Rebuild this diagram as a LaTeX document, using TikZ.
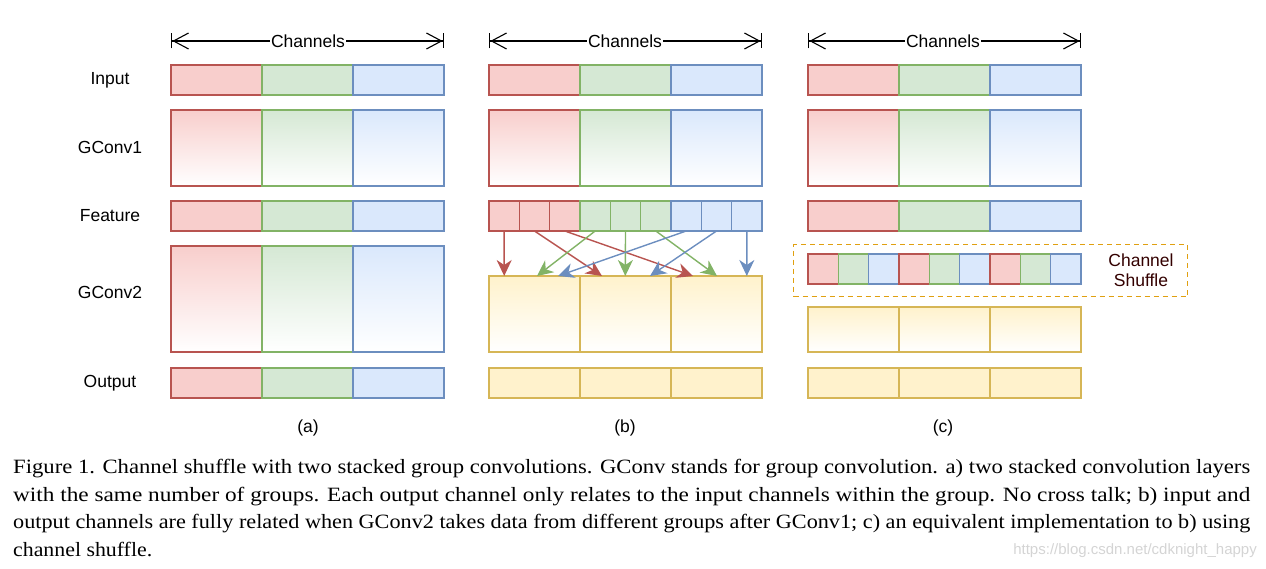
\documentclass[tikz,border=0pt]{standalone}
\usepackage{fontspec}
\setmainfont{Liberation Serif}
\setsansfont{Liberation Sans}
\usetikzlibrary{arrows.meta}
\definecolor{rf}{HTML}{F8CECC}\definecolor{rs}{HTML}{B85450}
\definecolor{gf}{HTML}{D5E8D4}\definecolor{gs}{HTML}{82B366}
\definecolor{bf}{HTML}{DAE8FC}\definecolor{bs}{HTML}{6C8EBF}
\definecolor{yf}{HTML}{FFF2CC}\definecolor{ys}{HTML}{D6B656}
\definecolor{os}{HTML}{E0A010}\definecolor{txtbrown}{HTML}{330000}
\definecolor{wm}{HTML}{D4D4D4}
\begin{document}
\begin{tikzpicture}[x=1pt,y=-1pt,
  cell/.style={rectangle,inner sep=0pt,outer sep=0pt,anchor=north west,line width=1.4pt,minimum width=91pt},
  small/.style={cell,minimum width=30.333pt,minimum height=30pt},
  rcell/.style={draw=rs,fill=rf}, gcell/.style={draw=gs,fill=gf},
  bcell/.style={draw=bs,fill=bf}, ycell/.style={draw=ys,fill=yf},
  rgrad/.style={draw=rs,top color=rf,bottom color=white},
  ggrad/.style={draw=gs,top color=gf,bottom color=white},
  bgrad/.style={draw=bs,top color=bf,bottom color=white},
  ygrad/.style={draw=ys,top color=yf,bottom color=white},
  lab/.style={font=\sffamily\fontsize{17.5}{20}\selectfont,inner sep=1pt},
  arr/.style={line width=1.4pt,-{Stealth[length=16pt,width=15pt,inset=5pt]}},
  chan/.style={line width=1.1pt,{Bar[width=15pt,line width=1.4pt]Straight Barb[length=15pt,width=16pt,line width=1.1pt]}-{Straight Barb[length=15pt,width=16pt,line width=1.1pt]Bar[width=15pt,line width=1.4pt]}},
  capline/.style={anchor=base west,inner sep=0pt,font=\fontsize{20.3}{24}\selectfont}
]
\useasboundingbox (0,0) rectangle (1266,569);

% row labels
\node[lab] (l-in) at (110,80) {Input};
\node[lab] (l-g1) at (110,147) {GConv1};
\node[lab] (l-f) at (110,216) {Feature};
\node[lab] (l-g2) at (110,292) {GConv2};
\node[lab] (l-out) at (110,383) {Output};

% channels arrows, input, gconv1 in all panels
\foreach \p/\x/\c in {a/171/308,b/489/625,c/808/943} {
  \coordinate (\p-cl) at (\x,41);
  \coordinate (\p-cr) at (\x+273,41);
  \draw[chan] (\p-cl) -- (\p-cr);
  \node[lab,fill=white] (\p-chan) at (\c,41) {Channels};
  \node[lab] (\p-cap) at (\c,428) {(\p)};
  \node[cell,rcell,minimum height=30pt] (\p-in-1) at (\x,65) {};
  \node[cell,gcell,minimum height=30pt] (\p-in-2) at (\x+91,65) {};
  \node[cell,bcell,minimum height=30pt] (\p-in-3) at (\x+182,65) {};
  \node[cell,rgrad,minimum height=76pt] (\p-g1-1) at (\x,110) {};
  \node[cell,ggrad,minimum height=76pt] (\p-g1-2) at (\x+91,110) {};
  \node[cell,bgrad,minimum height=76pt] (\p-g1-3) at (\x+182,110) {};
}
% panel a
\node[cell,rcell,minimum height=30pt] (a-f-1) at (171,201) {};
\node[cell,gcell,minimum height=30pt] (a-f-2) at (262,201) {};
\node[cell,bcell,minimum height=30pt] (a-f-3) at (353,201) {};
\node[cell,rgrad,minimum height=106pt] (a-g2-1) at (171,246) {};
\node[cell,ggrad,minimum height=106pt] (a-g2-2) at (262,246) {};
\node[cell,bgrad,minimum height=106pt] (a-g2-3) at (353,246) {};
\node[cell,rcell,minimum height=30pt] (a-o-1) at (171,368) {};
\node[cell,gcell,minimum height=30pt] (a-o-2) at (262,368) {};
\node[cell,bcell,minimum height=30pt] (a-o-3) at (353,368) {};

% panel b
\node[small,rcell] (b-f-1) at (489,201) {};
\node[small,rcell] (b-f-2) at (519.333,201) {};
\node[small,rcell] (b-f-3) at (549.667,201) {};
\node[small,gcell] (b-f-4) at (580,201) {};
\node[small,gcell] (b-f-5) at (610.333,201) {};
\node[small,gcell] (b-f-6) at (640.667,201) {};
\node[small,bcell] (b-f-7) at (671,201) {};
\node[small,bcell] (b-f-8) at (701.333,201) {};
\node[small,bcell] (b-f-9) at (731.667,201) {};
\node[cell,ygrad,minimum height=76pt] (b-g2-1) at (489,276) {};
\node[cell,ygrad,minimum height=76pt] (b-g2-2) at (580,276) {};
\node[cell,ygrad,minimum height=76pt] (b-g2-3) at (671,276) {};
\node[cell,ycell,minimum height=30pt] (b-o-1) at (489,368) {};
\node[cell,ycell,minimum height=30pt] (b-o-2) at (580,368) {};
\node[cell,ycell,minimum height=30pt] (b-o-3) at (671,368) {};
% arrow targets
\coordinate (t1) at (504.2,276);
\coordinate (t2) at (537,276);
\coordinate (t3) at (558,276);
\coordinate (t4) at (602,276);
\coordinate (t5) at (625.3,276);
\coordinate (t6) at (650,276);
\coordinate (t7) at (693,276);
\coordinate (t8) at (717,276);
\coordinate (t9) at (746.8,276);
\draw[arr,rs] (b-f-1.south) -- (t1);
\draw[arr,rs] (b-f-2.south) -- (t4);
\draw[arr,rs] (b-f-3.south) -- (t7);
\draw[arr,gs] (b-f-4.south) -- (t2);
\draw[arr,gs] (b-f-5.south) -- (t5);
\draw[arr,gs] (b-f-6.south) -- (t8);
\draw[arr,bs] (b-f-7.south) -- (t3);
\draw[arr,bs] (b-f-8.south) -- (t6);
\draw[arr,bs] (b-f-9.south) -- (t9);

% panel c
\node[cell,rcell,minimum height=30pt] (c-f-1) at (808,201) {};
\node[cell,gcell,minimum height=30pt] (c-f-2) at (899,201) {};
\node[cell,bcell,minimum height=30pt] (c-f-3) at (990,201) {};
\node[rectangle,draw=os,dash pattern=on 5pt off 4pt,line width=1.4pt,anchor=north west,inner sep=0pt,minimum width=394pt,minimum height=52pt] (shbox) at (793,244) {};
\node[small,rcell] (c-s-1) at (808,254) {};
\node[small,gcell] (c-s-2) at (838.333,254) {};
\node[small,bcell] (c-s-3) at (868.667,254) {};
\node[small,rcell] (c-s-4) at (899,254) {};
\node[small,gcell] (c-s-5) at (929.333,254) {};
\node[small,bcell] (c-s-6) at (959.667,254) {};
\node[small,rcell] (c-s-7) at (990,254) {};
\node[small,gcell] (c-s-8) at (1020.333,254) {};
\node[small,bcell] (c-s-9) at (1050.667,254) {};
\node[lab,text=txtbrown,align=center,font=\sffamily\fontsize{17.5}{20}\selectfont] (shtxt) at (1141,270) {Channel\\Shuffle};
\node[cell,ygrad,minimum height=45pt] (c-g2-1) at (808,307) {};
\node[cell,ygrad,minimum height=45pt] (c-g2-2) at (899,307) {};
\node[cell,ygrad,minimum height=45pt] (c-g2-3) at (990,307) {};
\node[cell,ycell,minimum height=30pt] (c-o-1) at (808,368) {};
\node[cell,ycell,minimum height=30pt] (c-o-2) at (899,368) {};
\node[cell,ycell,minimum height=30pt] (c-o-3) at (990,368) {};

% caption
\node[capline] (cap1) at (13,473.3) {\resizebox{1237pt}{\height}{Figure 1. Channel shuffle with two stacked group convolutions. GConv stands for group convolution. a) two stacked convolution layers}};
\node[capline] (cap2) at (13,501) {\resizebox{1237pt}{\height}{with the same number of groups. Each output channel only relates to the input channels within the group. No cross talk; b) input and}};
\node[capline] (cap3) at (13,528.6) {\resizebox{1237pt}{\height}{output channels are fully related when GConv2 takes data from different groups after GConv1; c) an equivalent implementation to b) using}};
\node[capline] (cap4) at (13,556.3) {\resizebox{139pt}{\height}{channel shuffle.}};
\node[anchor=east,inner sep=0pt,text=wm,font=\sffamily\fontsize{15}{18}\selectfont] (wmark) at (1257,551) {https://blog.csdn.net/cdknight\_happy};
\end{tikzpicture}
\end{document}
